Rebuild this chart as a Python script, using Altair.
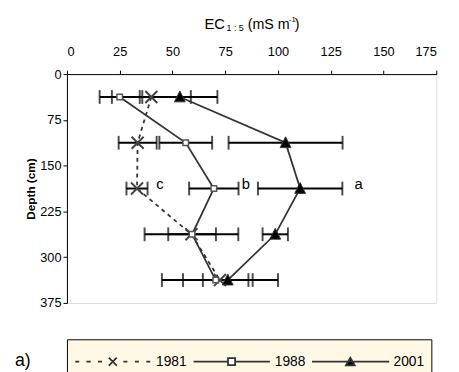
import altair as alt
import pandas as pd

# ---- data ----
depth = [37.5, 112.5, 187.5, 262.5, 337.5]
ec_1981 = [40.0, 33.5, 33.2, 59.0, 72.5]
err_1981 = [18.7, 9.0, 5.0, 22.2, 27.5]
ec_1988 = [25.0, 56.3, 69.6, 59.3, 70.5]
err_1988 = [9.5, 12.5, 11.7, 11.3, 15.5]
ec_2001 = [53.5, 103.6, 110.5, 98.7, 76.2]
err_2001 = [17.8, 27.0, 20.0, 6.0, 11.8]
series = ["1981", "1988", "2001"]
x_ticks = [0, 25, 50, 75, 100, 125, 150, 175]
y_ticks = [0, 75, 150, 225, 300, 375]
sig_labels = ["c", "b", "a"]
sig_ec = [42.3, 82.8, 136.2]
sig_depth = [187.5, 187.5, 187.5]

FONT = "Liberation Sans"

rows = []
for name, ec, err in zip(series, [ec_1981, ec_1988, ec_2001], [err_1981, err_1988, err_2001]):
    for d, v, e in zip(depth, ec, err):
        rows.append({"series": name, "depth": d, "ec": v, "lo": v - e, "hi": v + e})
df = pd.DataFrame(rows)
caps = pd.concat([
    df[["series", "depth"]].assign(val=df["lo"]),
    df[["series", "depth"]].assign(val=df["hi"]),
])
sig = pd.DataFrame({"lab": sig_labels, "ec": sig_ec, "depth": sig_depth})

xscale = alt.Scale(domain=[0, 175], nice=False, zero=False)
yscale = alt.Scale(domain=[0, 375], nice=False, zero=False, reverse=True)
xaxis = alt.Axis(orient="top", values=x_ticks, grid=False, title=None, tickSize=4,
                 labelPadding=12, labelFontSize=13, labelFont=FONT, labelColor="black",
                 domainColor="black", tickColor="black", domainWidth=1)
yaxis = alt.Axis(values=y_ticks, grid=False, title="Depth (cm)", tickSize=4,
                 labelPadding=2, labelFontSize=13, labelFont=FONT, labelColor="black",
                 domainColor="black", tickColor="black", titleFont=FONT, titleFontSize=12,
                 titleFontWeight="bold", titlePadding=2, titleColor="black")


def X(f):
    return alt.X(f, type="quantitative", scale=xscale, axis=xaxis)


def Y(f):
    return alt.Y(f, type="quantitative", scale=yscale, axis=yaxis)


err_rule = alt.Chart(df).mark_rule(color="black", strokeWidth=2).encode(
    x=X("lo"), x2="hi", y=Y("depth"))
err_caps = alt.Chart(caps).mark_tick(orient="vertical", size=14, thickness=2, color="black").encode(
    x=X("val"), y=Y("depth"))

LINE = "#333333"
line81 = alt.Chart(df).transform_filter("datum.series == '1981'").mark_line(
    color=LINE, strokeWidth=1.8, strokeDash=[4, 4]).encode(x=X("ec"), y=Y("depth"), order="depth:Q")
line88 = alt.Chart(df).transform_filter("datum.series == '1988'").mark_line(
    color=LINE, strokeWidth=1.8).encode(x=X("ec"), y=Y("depth"), order="depth:Q")
line01 = alt.Chart(df).transform_filter("datum.series == '2001'").mark_line(
    color=LINE, strokeWidth=1.8).encode(x=X("ec"), y=Y("depth"), order="depth:Q")

pt81 = alt.Chart(df).transform_filter("datum.series == '1981'").mark_point(
    shape="M-1,-1L1,1M-1,1L1,-1", size=150, filled=False, stroke="#444444", strokeWidth=2,
    opacity=1).encode(x=X("ec"), y=Y("depth"))
pt88 = alt.Chart(df).transform_filter("datum.series == '1988'").mark_point(
    shape="square", size=32, filled=True, fill="white", stroke="#555555", strokeWidth=1.5,
    opacity=1).encode(x=X("ec"), y=Y("depth"))
pt01 = alt.Chart(df).transform_filter("datum.series == '2001'").mark_point(
    shape="M0,-1.1L1,0.9L-1,0.9Z", size=121, filled=True, fill="black", stroke="#333333",
    strokeWidth=1, opacity=1).encode(x=X("ec"), y=Y("depth"))

sig_text = alt.Chart(sig).mark_text(fontSize=15, font=FONT, align="left", baseline="alphabetic",
                                    color="black").encode(x=X("ec"), y=Y("depth"), text="lab:N")

one = pd.DataFrame({"k": [0]})


def txt(s, x, y, size, **kw):
    return alt.Chart(one).mark_text(text=s, fontSize=size, font=FONT, align="left",
                                    baseline="alphabetic", color="black", **kw).encode(
        x=alt.value(x), y=alt.value(y))


title_parts = [
    txt("EC", 140, -46.3, 15),
    txt("1 : 5", 162.5, -44.3, 9),
    txt("(mS m", 184, -46.3, 14.5),
    txt("-1", 226, -53, 8),
    txt(")", 232, -46.3, 14.5),
    txt("a)", -53, 297, 18),
]

# legend symbols (line sample + marker), unit = sqrt(size)/2 = 6 px
p81 = ("M-6.37,0H-5.7M-4.48,0H-3.75M-2.53,0H-1.82M1.8,0H2.47M3.75,0H4.42M5.68,0H6.35"
       "M-0.68,-0.68L0.68,0.68M-0.68,0.68L0.68,-0.68")
p88 = "M-6.45,0H-0.6M0.6,0H6.5M-0.6,-0.6H0.6V0.6H-0.6Z"
p01 = "M-6.5,0H6.6M-0.75,0.65H0.75L0,-0.65Z"

leg = alt.Legend(orient="none", legendX=0, legendY=270, direction="horizontal", title=None,
                 fillColor="#FFF8E4", strokeColor="black", padding=6.7, symbolSize=144,
                 clipHeight=32,
                 symbolOffset=33, labelOffset=37, columnPadding=4.9, labelFontSize=14,
                 labelFont=FONT, labelColor="black", labelLimit=200,
                 labelExpr="datum.label == '2001' ? datum.label + '\u00a0\u00a0' : datum.label",
                 symbolStrokeColor="#333333", symbolStrokeWidth=1.8, symbolOpacity=1)
legend_layer = alt.Chart(pd.DataFrame({"series": series})).transform_filter("false").mark_point(
    filled=True, size=144, strokeWidth=1.8).encode(
    shape=alt.Shape("series:N", scale=alt.Scale(domain=series, range=[p81, p88, p01]), legend=leg),
    fill=alt.Fill("series:N", scale=alt.Scale(domain=series, range=["#333333", "white", "black"]),
                  legend=leg),
    stroke=alt.Stroke("series:N", scale=alt.Scale(domain=series, range=["#333333", "#333333", "#333333"]),
                      legend=leg),
)

chart = alt.layer(
    err_rule, err_caps, line81, line88, line01, pt81, pt88, pt01, sig_text,
    *title_parts, legend_layer
).properties(
    width=376, height=233,
    autosize=alt.AutoSizeParams(type="none"),
    padding={"left": 60, "top": 64, "right": 15, "bottom": 67},
).configure_view(strokeWidth=0).configure(background="white")

chart.save("out.html", embed_options={"renderer": "svg", "actions": False})
